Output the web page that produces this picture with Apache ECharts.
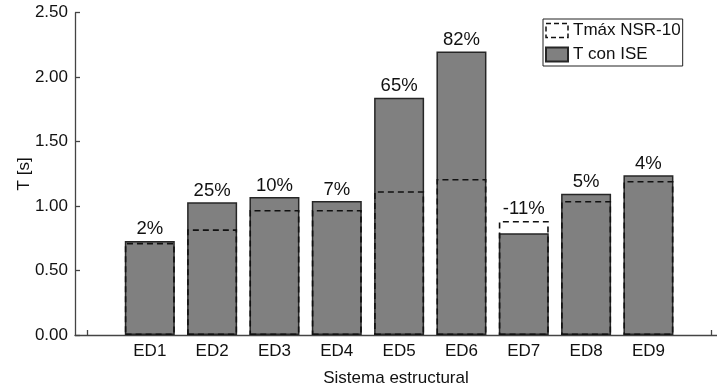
<!DOCTYPE html>
<html>
<head>
<meta charset="utf-8">
<script src="https://cdn.jsdelivr.net/npm/echarts@6/dist/echarts.min.js"></script>
<style>
  html, body { margin: 0; padding: 0; background: #fff; }
  #chart { width: 717px; height: 388px; }
</style>
</head>
<body>
<div id="chart"></div>
<script>
// Structural systems and their fundamental periods
const categories = ['ED1', 'ED2', 'ED3', 'ED4', 'ED5', 'ED6', 'ED7', 'ED8', 'ED9'];
// Upper limit of the period per NSR-10 (s)
const tmaxNSR = [0.715, 0.82, 0.97, 0.97, 1.115, 1.21, 0.885, 1.04, 1.195];
// Period including soil-structure interaction (s)
const tISE = [0.73, 1.03, 1.07, 1.04, 1.84, 2.20, 0.79, 1.095, 1.24];
// Relative difference labels
const pctLabels = ['2%', '25%', '10%', '7%', '65%', '82%', '-11%', '5%', '4%'];

const FONT = 'Liberation Sans, Arial, sans-serif';

const labelStyle = {
  show: true,
  position: 'top',
  distance: 2,
  fontFamily: FONT,
  fontSize: 18.5,
  color: '#111'
};

// Label goes on whichever bar is taller
const tData = categories.map((c, i) => {
  const item = { value: [i + 1, tISE[i]] };
  if (tISE[i] >= tmaxNSR[i]) item.label = Object.assign({}, labelStyle, { formatter: pctLabels[i] });
  return item;
});
const maxData = categories.map((c, i) => {
  const item = { value: [i + 1, tmaxNSR[i]] };
  if (tmaxNSR[i] > tISE[i]) item.label = Object.assign({}, labelStyle, { formatter: pctLabels[i] });
  return item;
});

const chart = echarts.init(document.getElementById('chart'), null, { renderer: 'canvas' });

chart.setOption({
  animation: false,
  backgroundColor: '#fff',
  textStyle: { fontFamily: FONT },
  grid: { left: 75, right: 0, top: 12.7, bottom: 53, containLabel: false, outerBoundsMode: 'none' },
  legend: {
    left: 543,
    top: 19,
    orient: 'vertical',
    padding: [3, 2, 3, 2],
    itemGap: 7,
    itemWidth: 22,
    itemHeight: 14,
    borderColor: '#222',
    borderWidth: 1,
    backgroundColor: '#fff',
    textStyle: { fontFamily: FONT, fontSize: 17, color: '#111' },
    data: [
      { name: 'Tmáx NSR-10', icon: 'rect', itemStyle: { color: '#fff', borderColor: '#111', borderWidth: 1.5, borderType: [5, 3] } },
      { name: 'T con ISE', icon: 'rect' }
    ]
  },
  xAxis: {
    type: 'value',
    min: -0.2,
    max: 10.1,
    name: 'Sistema estructural',
    nameLocation: 'middle',
    nameGap: 35,
    nameMoveOverlap: false,
    nameTextStyle: { fontFamily: FONT, fontSize: 17, color: '#111' },
    axisLine: { show: true, onZero: false, lineStyle: { color: '#444', width: 1.3 } },
    axisTick: {
      show: true, inside: true, length: 5,
      customValues: [0, 1, 2, 3, 4, 5, 6, 7, 8, 9, 10],
      lineStyle: { color: '#444', width: 1.3 }
    },
    axisLabel: {
      show: true,
      customValues: [1, 2, 3, 4, 5, 6, 7, 8, 9],
      formatter: v => categories[Math.round(v) - 1] || '',
      margin: 8,
      fontFamily: FONT,
      fontSize: 17,
      color: '#111'
    },
    splitLine: { show: false }
  },
  yAxis: {
    type: 'value',
    min: 0,
    max: 2.5,
    interval: 0.5,
    name: 'T [s]',
    nameLocation: 'middle',
    nameGap: 42,
    nameMoveOverlap: false,
    nameRotate: 90,
    nameTextStyle: { fontFamily: FONT, fontSize: 17, color: '#111' },
    axisLine: { show: true, onZero: false, lineStyle: { color: '#444', width: 1.3 } },
    axisTick: { show: true, inside: true, length: 5, lineStyle: { color: '#444', width: 1.3 } },
    axisLabel: {
      formatter: v => v.toFixed(2),
      margin: 7,
      fontFamily: FONT,
      fontSize: 17,
      color: '#111'
    },
    splitLine: { show: false }
  },
  series: [
    {
      name: 'T con ISE',
      type: 'bar',
      barWidth: 50,
      barGap: '-100%',
      z: 2,
      itemStyle: { color: '#808080', borderColor: '#262626', borderWidth: 1.5 },
      data: tData
    },
    {
      name: 'Tmáx NSR-10',
      type: 'bar',
      barWidth: 50,
      barGap: '-100%',
      z: 3,
      itemStyle: {
        color: 'rgba(255,255,255,0)',
        borderColor: '#111',
        borderWidth: 1.6,
        borderType: [6, 4]
      },
      data: maxData
    }
  ]
});
</script>
</body>
</html>
